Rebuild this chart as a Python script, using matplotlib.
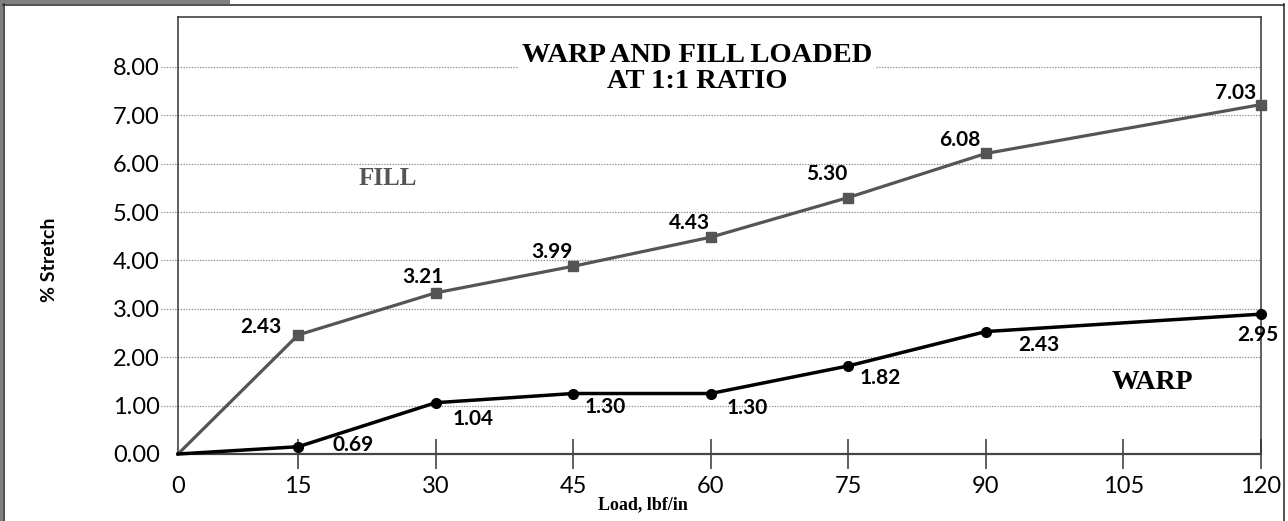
import numpy as np
import matplotlib
matplotlib.use('Agg')
import matplotlib.pyplot as plt
from matplotlib.patches import Rectangle
from matplotlib.lines import Line2D
from matplotlib.ticker import FixedLocator, FixedFormatter

# data
loads = [0, 15, 30, 45, 60, 75, 90, 120]
fill_stretch = [0.0, 2.46, 3.33, 3.88, 4.48, 5.30, 6.21, 7.22]
warp_stretch = [0.0, 0.15, 1.06, 1.25, 1.25, 1.82, 2.53, 2.89]
fill_labels = ['', '2.43', '3.21', '3.99', '4.43', '5.30', '6.08', '7.03']
warp_labels = ['', '0.69', '1.04', '1.30', '1.30', '1.82', '2.43', '2.95']
x_ticks = [15, 30, 45, 60, 75, 90, 105, 120]
y_ticks = [0, 1, 2, 3, 4, 5, 6, 7, 8]

# label offsets in pixels
fill_offsets = [(0, 0), (-37, 8), (-13, 16), (-21, 14), (-21, 14), (-22, 24), (-26, 13), (-25, 12)]
warp_offsets = [(0, 0), (55, 2), (37, -16), (32, -13), (36, -14), (32, -12), (53, -13), (-3, -21)]

W, H = 1288, 521
fig = plt.figure(figsize=(W / 100, H / 100), dpi=100)
ax = fig.add_axes([178 / W, 1 - 454 / H, (1261 - 178) / W, (454 - 17) / H])

# first 15 units of the axis are drawn a bit narrower than the rest
def fwd(x):
  return np.interp(x, [0, 15, 120], [0, 120, 1082], left=-1e9, right=1e9)

def inv(x):
  return np.interp(x, [0, 120, 1082], [0, 15, 120])

ax.set_xscale('function', functions=(fwd, inv))
ax.set_xlim(0, 120)
ax.set_ylim(0, 9.03)

sans = 'Lato'
serif = 'Liberation Serif'

marks = list(range(1, len(loads)))
ax.plot(loads, fill_stretch, color='#555555', lw=2.3, marker='s', ms=7, markevery=marks,
        clip_on=False, zorder=3)
ax.plot(loads, warp_stretch, color='black', lw=2.5, marker='o', ms=7, markevery=marks,
        clip_on=False, zorder=3)

for x, y, lab, off in zip(loads, fill_stretch, fill_labels, fill_offsets):
  if lab:
    ax.annotate(lab, (x, y), xytext=off, textcoords='offset pixels', ha='center', va='center',
                fontsize=15, fontweight='bold', family=sans, color='black', zorder=4)
for x, y, lab, off in zip(loads, warp_stretch, warp_labels, warp_offsets):
  if lab:
    ax.annotate(lab, (x, y), xytext=off, textcoords='offset pixels', ha='center', va='center',
                fontsize=15, fontweight='bold', family=sans, color='black', zorder=4)

# dotted gridlines running out to the labels
for y in y_ticks[1:]:
  ax.plot([-17 / 1083, 1], [y, y], transform=ax.get_yaxis_transform(), ls=(0, (1, 1.2)),
          color='#888888', lw=0.9, clip_on=False, zorder=1)

ax.set_yticks(y_ticks)
ax.set_yticklabels(['%.2f' % v for v in y_ticks], family=sans, fontsize=17)
ax.tick_params(axis='y', length=0, pad=13)

ax.xaxis.set_major_locator(FixedLocator(x_ticks))
ax.xaxis.set_major_formatter(FixedFormatter([str(v) for v in x_ticks]))
ax.xaxis.set_minor_locator(FixedLocator([0]))
ax.xaxis.set_minor_formatter(FixedFormatter(['0']))
ax.tick_params(axis='x', which='major', direction='inout', length=22, width=1.1, color='#333333', pad=5)
ax.tick_params(axis='x', which='minor', length=0, pad=16)
for lab in ax.get_xticklabels(which='both'):
  lab.set_family(sans)
  lab.set_fontsize(17)

for side in ['left', 'top', 'right']:
  ax.spines[side].set_color('#333333')
  ax.spines[side].set_linewidth(1.1)
ax.spines['bottom'].set_color('#444444')
ax.spines['bottom'].set_linewidth(1.6)

ax.text(0.479, 7.97, 'WARP AND FILL LOADED\nAT 1:1 RATIO', transform=ax.get_yaxis_transform(),
        ha='center', va='center', family=serif, fontsize=20.5, fontweight='bold', linespacing=1.05,
        bbox=dict(facecolor='white', edgecolor='none', pad=2), zorder=2)
ax.text((388 - 178) / 1083, (454 - 178) / 48.4, 'FILL', transform=ax.get_yaxis_transform(),
        ha='center', va='center', family=serif, fontsize=18, fontweight='bold', color='#555555')
ax.text((1152 - 178) / 1083, (454 - 382) / 48.4, 'WARP', transform=ax.get_yaxis_transform(),
        ha='center', va='center', family=serif, fontsize=20, fontweight='bold', color='black')

fig.text(50 / W, 1 - 260 / H, '% Stretch', rotation=90, ha='center', va='center',
         family=sans, fontweight='bold', fontsize=14)
fig.text(643 / W, 1 - 505 / H, 'Load, lbf/in', ha='center', va='center', family=serif,
         fontweight='bold', fontsize=13)

# frame around the figure
fig.add_artist(Rectangle((0, 1 - 4 / H), 230 / W, 4 / H, transform=fig.transFigure,
                         facecolor='#808080', edgecolor='none'))
fig.add_artist(Rectangle((0, 0), 3 / W, 1, transform=fig.transFigure,
                         facecolor='#808080', edgecolor='none'))
fig.add_artist(Line2D([3.5 / W, 3.5 / W], [0, 1 - 4 / H], transform=fig.transFigure, color='#333333', lw=1.2))
fig.add_artist(Line2D([3 / W, 1284 / W], [1 - 4.5 / H, 1 - 4.5 / H], transform=fig.transFigure, color='#333333', lw=1.2))
fig.add_artist(Line2D([1283.5 / W, 1283.5 / W], [0, 1 - 4 / H], transform=fig.transFigure, color='#333333', lw=1.2))

fig.savefig('out.png', dpi=100)
